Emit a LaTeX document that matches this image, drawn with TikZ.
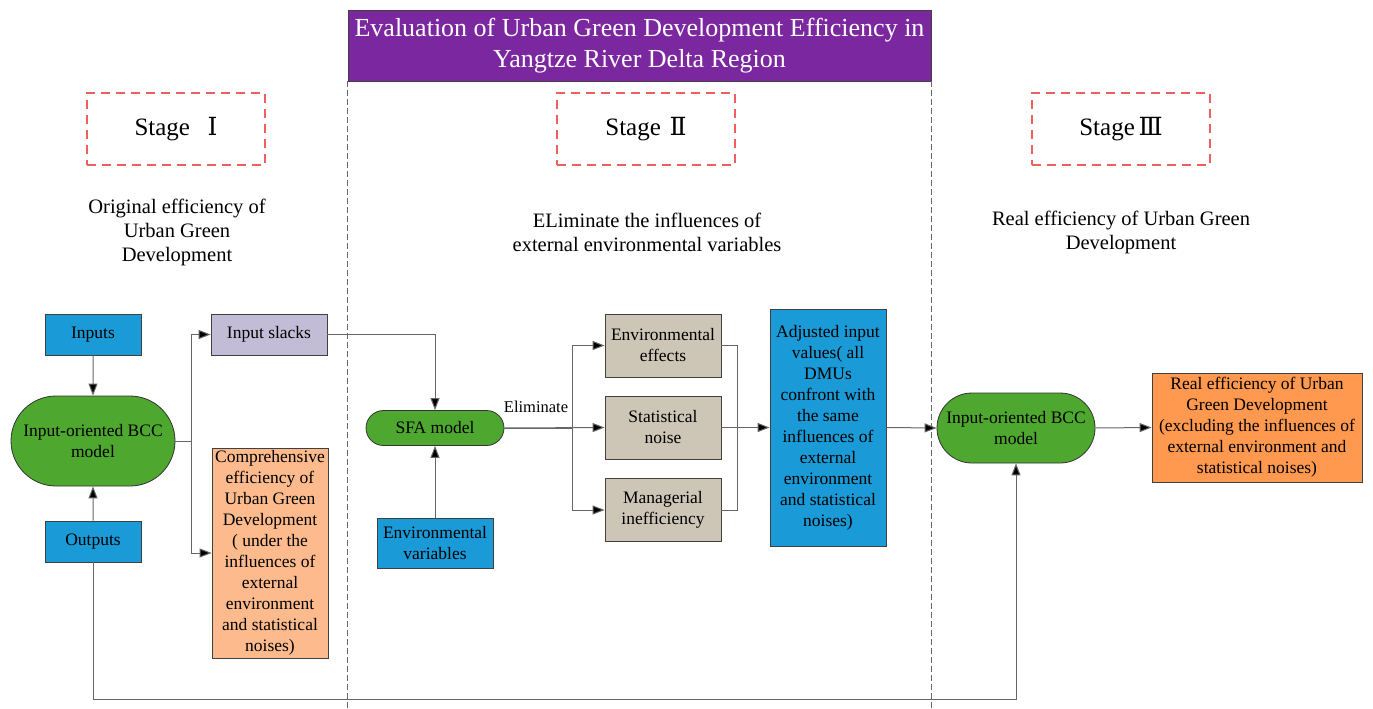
\documentclass[tikz,border=0pt]{standalone}
\usepackage{fontspec}
\setmainfont{Liberation Serif}
\newfontfamily\numfont{DejaVu Serif}
\usetikzlibrary{arrows.meta,shapes.misc}

\definecolor{inblue}{HTML}{1A9AD6}
\definecolor{modelgreen}{HTML}{4EA72E}
\definecolor{slacklilac}{HTML}{C3BCD6}
\definecolor{peach}{HTML}{FDBB8D}
\definecolor{tan}{HTML}{CDC5B5}
\definecolor{realorange}{HTML}{FF994F}
\definecolor{titlepurple}{HTML}{7B28A0}
\definecolor{stagered}{HTML}{EE6060}
\definecolor{wire}{HTML}{666666}

\begin{document}
\begin{tikzpicture}[x=1pt,y=-1pt,
  font=\fontsize{17.5}{21}\selectfont,
  box/.style={draw=black!75,line width=0.8pt,inner sep=1pt,align=center},
  blue box/.style={box,fill=inblue,minimum width=96pt,minimum height=41pt},
  grey box/.style={box,fill=tan,minimum width=116pt,minimum height=63pt},
  pill/.style={rounded rectangle,draw=black!80,line width=0.8pt,fill=modelgreen,align=center,inner sep=1pt},
  stage/.style={draw=stagered,line width=1.1pt,dash pattern=on 9pt off 6pt,minimum width=178pt,minimum height=72pt,font=\fontsize{25}{28}\selectfont},
  heading/.style={align=center,font=\fontsize{20.5}{24}\selectfont},
  divider/.style={draw=black!60,line width=0.8pt,dash pattern=on 6pt off 3pt},
  arr/.style={draw=wire,line width=1pt,-{Triangle[length=12pt,width=9pt,fill=black]}},
  wire/.style={draw=wire,line width=1pt},
]
\useasboundingbox (0,0) rectangle (1373,709);

% title and stage dividers
\node[box,fill=titlepurple,text=white,minimum width=583pt,minimum height=71pt,
  font=\fontsize{26}{31}\selectfont] (title) at (639.5,45.5)
  {Evaluation of Urban Green Development Efficiency in\\Yangtze River Delta Region};
\draw[divider] (title.south west) -- (title.south west |- 0,709);
\draw[divider] (title.south east) -- (title.south east |- 0,709);

\node[stage] (stage1) at (176,129) {Stage\hspace{0.7em}{\numfont Ⅰ}};
\node[stage] (stage2) at (646,129) {Stage\hspace{0.35em}{\numfont Ⅱ}};
\node[stage] (stage3) at (1121,129) {Stage\hspace{0.15em}{\numfont Ⅲ}};

\node[heading] (head1) at (177,232) {Original efficiency of\\Urban Green\\Development};
\node[heading] (head2) at (647,232) {ELiminate the influences of\\external environmental variables};
\node[heading] (head3) at (1121,232) {Real efficiency of Urban Green\\Development};

% stage I
\node[blue box] (inputs) at (93,334.5) {Inputs};
\node[blue box] (outputs) at (93,541.5) {Outputs};
\node[pill,minimum width=166pt,minimum height=90pt] (bcc1) at (93,441) {Input-oriented BCC\\model};
\node[box,fill=slacklilac,minimum width=116pt,minimum height=41pt] (slacks) at (269,334.5) {Input slacks};
\node[box,fill=peach,minimum width=116pt,minimum height=210pt] (comp) at (270,553)
  {Comprehensive\\efficiency of\\Urban Green\\Development\\( under the\\influences of\\external\\environment\\and statistical\\noises)};

\draw[arr] (inputs) -- (bcc1);
\draw[arr] (outputs) -- (bcc1);
\draw[arr] (bcc1.east) -- ++(16,0) |- (slacks.west);
\draw[arr] (bcc1.east) -- ++(16,0) |- (comp.west);

% stage II
\node[pill,minimum width=140pt,minimum height=35pt] (sfa) at (435,428) {SFA model};
\node[box,fill=inblue,minimum width=116pt,minimum height=50pt] (envvar) at (435,543) {Environmental\\variables};
\node[grey box] (effects) at (663,345.5) {Environmental\\effects};
\node[grey box] (noise) at (663,427.5) {Statistical\\noise};
\node[grey box] (manag) at (663,510) {Managerial\\inefficiency};
\node[box,fill=inblue,minimum width=116pt,minimum height=237pt] (adjusted) at (828,427.5)
  {Adjusted input\\values( all\\DMUs\\confront with\\the same\\influences of\\external\\environment\\and statistical\\noises)};
\node[font=\fontsize{16.5}{20}\selectfont] (elim) at (536,407) {Eliminate};

\draw[arr] (slacks.east) -| (sfa.north);
\draw[arr] (envvar) -- (sfa);
\draw[arr] (sfa.east) -- (noise.west);
\draw[arr] (sfa.east) -- ++(68,0) |- (effects.west);
\draw[arr] (sfa.east) -- ++(68,0) |- (manag.west);
\draw[wire] (effects.east) -- ++(16,0) coordinate (join) -- (join |- manag.east) -- (manag.east);
\draw[arr] (noise.east) -- (adjusted.west);

% stage III
\node[pill,minimum width=160pt,minimum height=70pt] (bcc2) at (1016,428) {Input-oriented BCC\\model};
\node[box,fill=realorange,minimum width=210pt,minimum height=109pt] (real) at (1257,427.5)
  {Real efficiency of Urban\\Green Development\\(excluding the influences of\\external environment and\\statistical noises)};

\draw[arr] (adjusted.east) -- (bcc2.west);
\draw[arr] (bcc2.east) -- (real.west);
\draw[arr] (outputs.south) -- ++(0,137) -| (bcc2.south);
\end{tikzpicture}
\end{document}
